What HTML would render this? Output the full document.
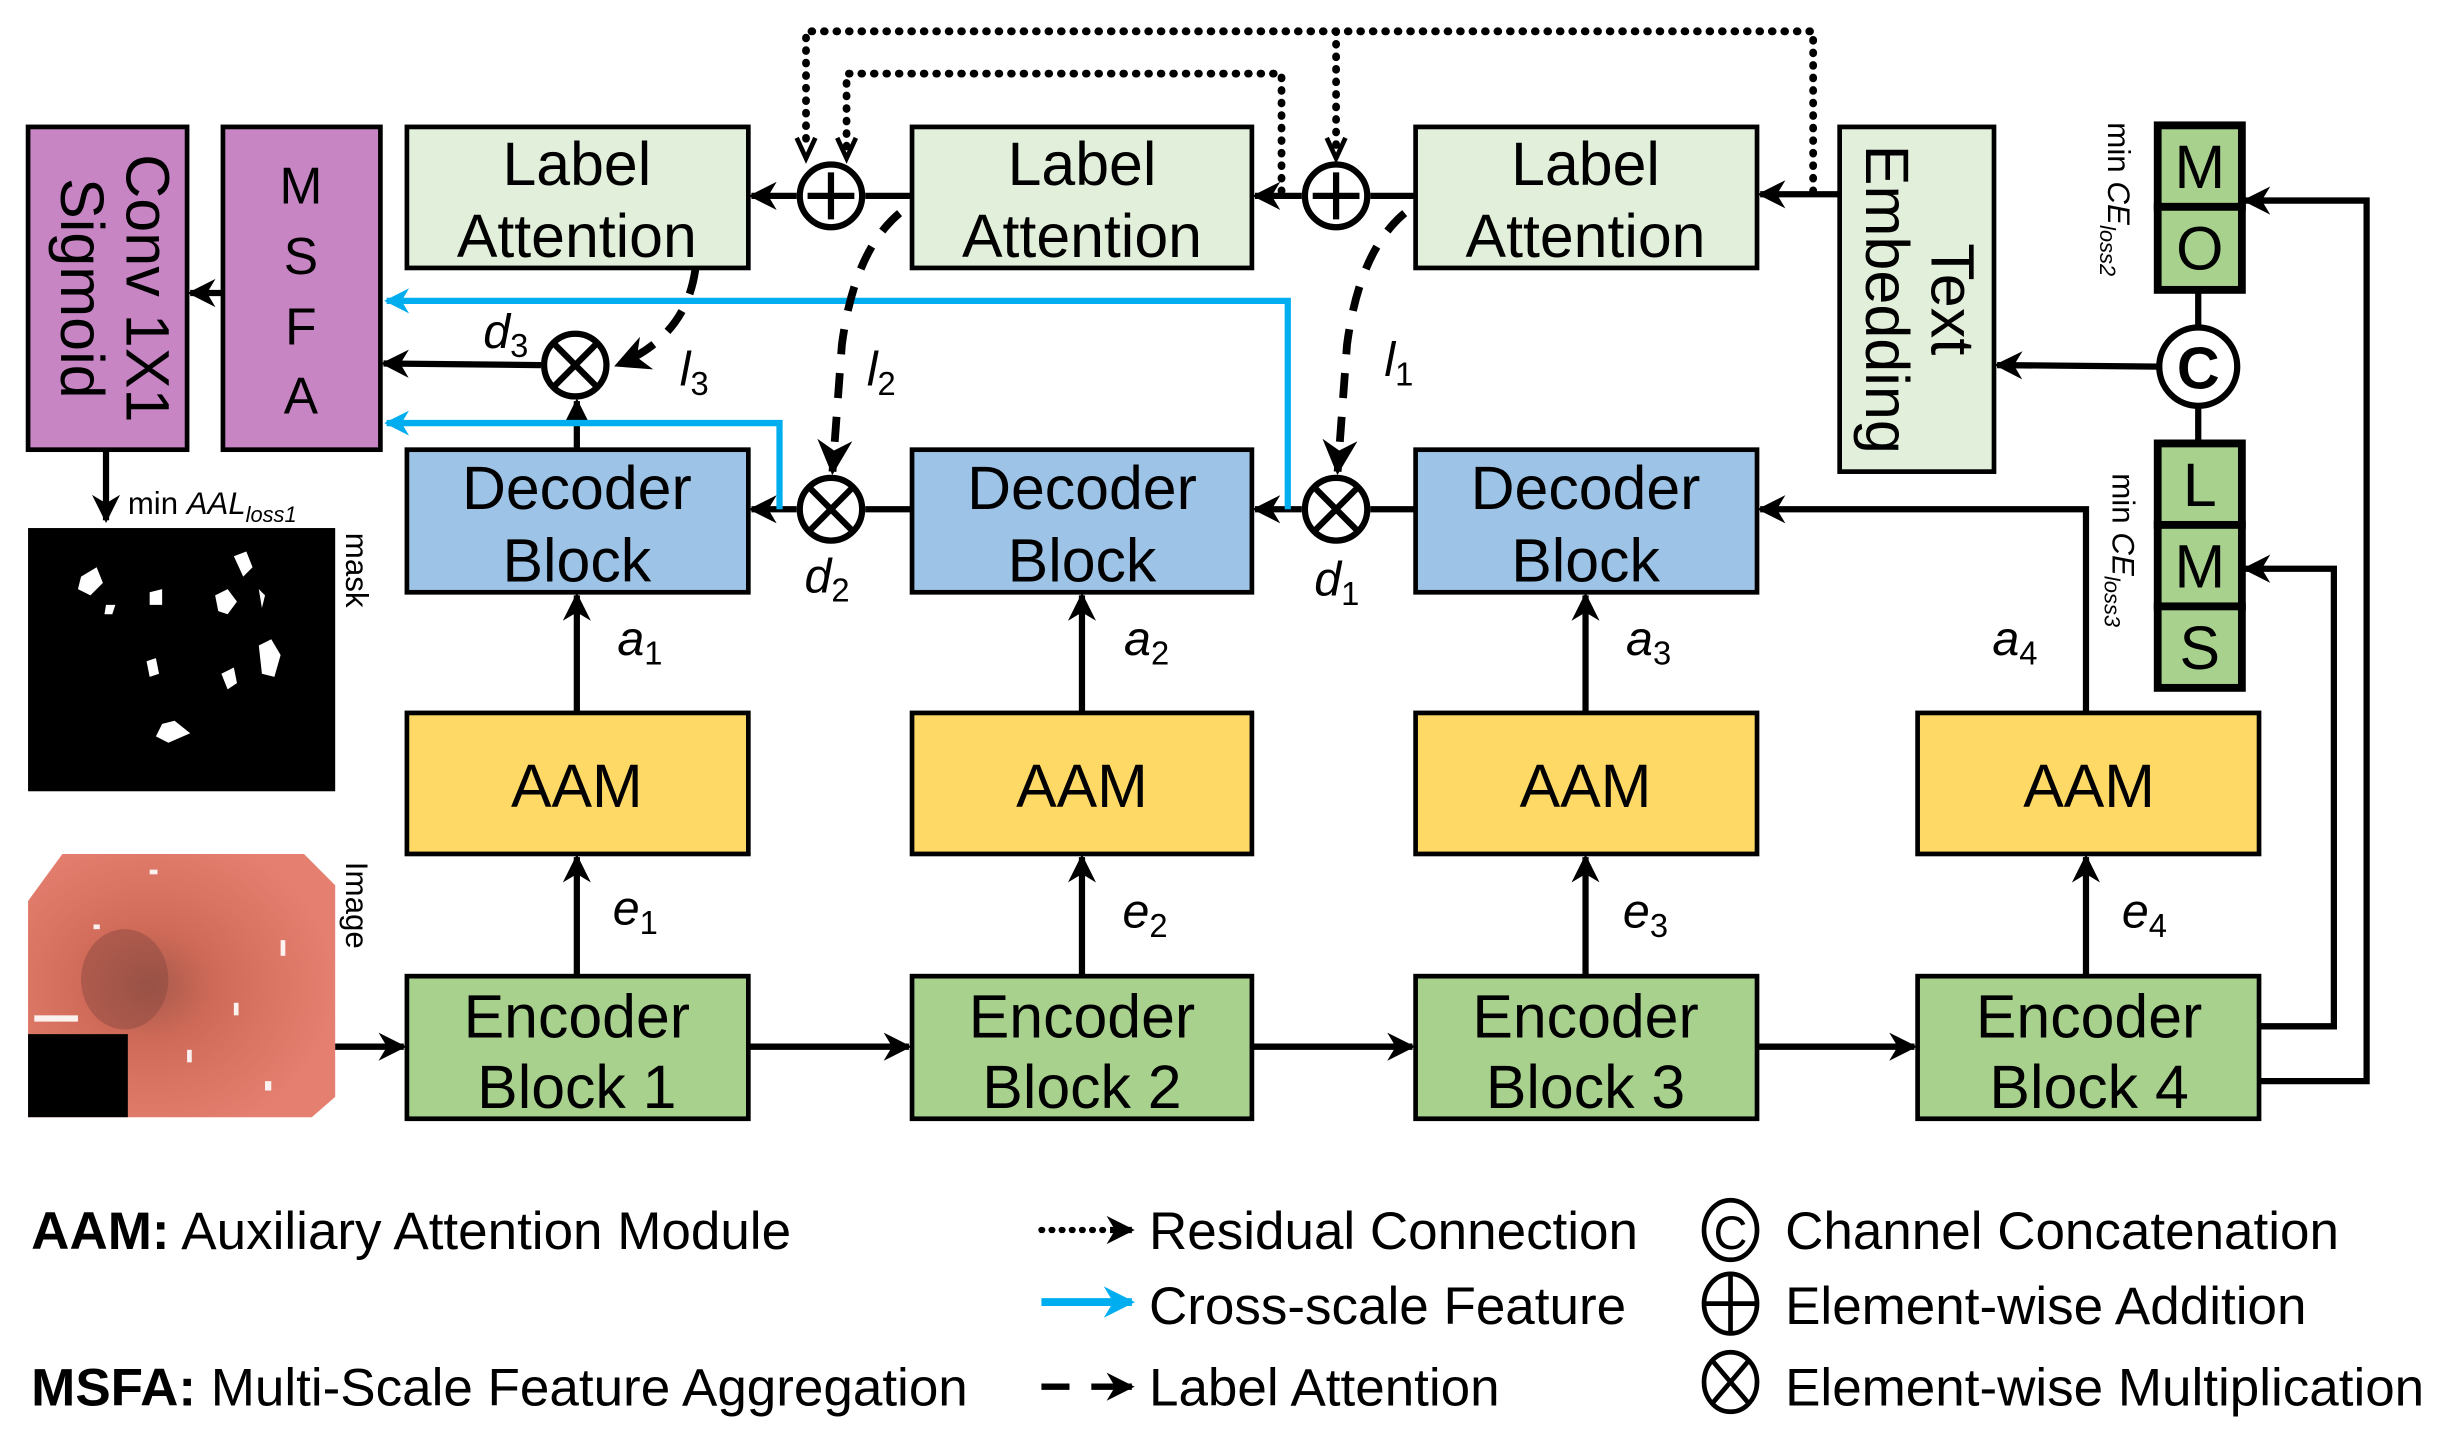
<!DOCTYPE html>
<html><head><meta charset="utf-8"><style>
html,body{margin:0;padding:0;background:#fff;overflow:hidden}
svg{display:block}
text{font-family:"Liberation Sans",Arial,sans-serif;}
.m{font-family:"Liberation Serif",serif;font-style:italic}
</style></head><body>
<svg width="2443" height="1429" viewBox="0 0 1567 912" preserveAspectRatio="none" xmlns="http://www.w3.org/2000/svg">
<defs>
<marker id="a" viewBox="0 0 10 10" refX="9" refY="5" markerWidth="4.5" markerHeight="4.5" orient="auto" markerUnits="strokeWidth"><path d="M0,0 L10,5 L0,10 L3,5z" fill="#000"/></marker>
<marker id="ab" viewBox="0 0 10 10" refX="9" refY="5" markerWidth="4" markerHeight="4" orient="auto" markerUnits="strokeWidth"><path d="M0,0 L10,5 L0,10 L3,5z" fill="#00aeef"/></marker>
<radialGradient id="g" cx="0.4" cy="0.5" r="0.6"><stop offset="0" stop-color="#a85a4c"/><stop offset="0.35" stop-color="#d06a58"/><stop offset="1" stop-color="#e58070"/></radialGradient>
</defs>
<g stroke="#000" stroke-width="3">
<rect x="18" y="81" width="102" height="206" fill="#c785c4"/>
<rect x="143" y="81" width="101" height="206" fill="#c785c4"/>
<rect x="261" y="81" width="219" height="90" fill="#e2efda"/>
<rect x="585" y="81" width="218" height="90" fill="#e2efda"/>
<rect x="908" y="81" width="219" height="90" fill="#e2efda"/>
<rect x="1180" y="81" width="99" height="220" fill="#e2efda"/>
<rect x="261" y="287" width="219" height="91" fill="#9dc3e6"/>
<rect x="585" y="287" width="218" height="91" fill="#9dc3e6"/>
<rect x="908" y="287" width="219" height="91" fill="#9dc3e6"/>
<rect x="261" y="455" width="219" height="90" fill="#ffd966"/>
<rect x="585" y="455" width="218" height="90" fill="#ffd966"/>
<rect x="908" y="455" width="219" height="90" fill="#ffd966"/>
<rect x="1230" y="455" width="219" height="90" fill="#ffd966"/>
<rect x="261" y="623" width="219" height="91" fill="#a9d18e"/>
<rect x="585" y="623" width="218" height="91" fill="#a9d18e"/>
<rect x="908" y="623" width="219" height="91" fill="#a9d18e"/>
<rect x="1230" y="623" width="219" height="91" fill="#a9d18e"/>
</g>
<g stroke="#000" stroke-width="5" fill="#a9d18e">
<rect x="1384" y="80" width="54" height="52"/><rect x="1384" y="132" width="54" height="53"/>
<rect x="1384" y="283" width="54" height="52"/><rect x="1384" y="335" width="54" height="52"/><rect x="1384" y="387" width="54" height="52"/>
</g>
<rect x="18" y="337" width="197" height="168" fill="#000"/>
<g fill="#fff"><polygon points="52,368 62,362 66,372 58,380 50,376"/><polygon points="150,355 158,352 162,362 156,368"/><polygon points="96,378 104,376 104,386 96,386"/><polygon points="138,380 146,376 152,384 146,392 140,390"/><polygon points="166,376 170,380 168,388"/><polygon points="68,386 74,386 72,392 67,392"/><polygon points="166,412 174,408 180,418 176,432 168,430"/><polygon points="94,422 100,420 102,430 96,432"/><polygon points="142,430 150,426 152,436 146,440"/><polygon points="104,462 112,460 122,468 108,474 100,470"/></g>
<polygon points="40,545 195,545 215,565 215,700 200,713 18,713 18,575" fill="url(#g)"/>
<ellipse cx="80" cy="625" rx="28" ry="32" fill="#8a4a40" opacity="0.5"/>
<rect x="18" y="660" width="64" height="53" fill="#000"/>
<g fill="#fff" opacity="0.9"><rect x="60" y="590" width="4" height="3"/><rect x="96" y="555" width="5" height="3"/><rect x="150" y="640" width="3" height="8"/><rect x="180" y="600" width="3" height="10"/><rect x="120" y="670" width="3" height="8"/><rect x="170" y="690" width="4" height="6"/><rect x="22" y="648" width="28" height="4"/></g>
<g font-size="39" text-anchor="middle" fill="#000">
<text x="370" y="118">Label</text><text x="370" y="164">Attention</text>
<text x="694" y="118">Label</text><text x="694" y="164">Attention</text>
<text x="1017" y="118">Label</text><text x="1017" y="164">Attention</text>
<text x="370" y="325">Decoder</text><text x="370" y="371">Block</text>
<text x="694" y="325">Decoder</text><text x="694" y="371">Block</text>
<text x="1017" y="325">Decoder</text><text x="1017" y="371">Block</text>
<text x="370" y="515">AAM</text><text x="694" y="515">AAM</text><text x="1017" y="515">AAM</text><text x="1340" y="515">AAM</text>
<text x="370" y="662">Encoder</text><text x="370" y="707">Block 1</text>
<text x="694" y="662">Encoder</text><text x="694" y="707">Block 2</text>
<text x="1017" y="662">Encoder</text><text x="1017" y="707">Block 3</text>
<text x="1340" y="662">Encoder</text><text x="1340" y="707">Block 4</text>
<text x="1411" y="120">M</text><text x="1411" y="172">O</text>
<text x="1411" y="323">L</text><text x="1411" y="375">M</text><text x="1411" y="427">S</text>
<g font-size="33"><text x="193" y="130">M</text><text x="193" y="175">S</text><text x="193" y="220">F</text><text x="193" y="264">A</text></g>
<g transform="translate(69,184) rotate(90)"><text x="0" y="-12">Conv 1X1</text><text x="0" y="30">Sigmoid</text></g>
<g transform="translate(1229,191) rotate(90)"><text x="0" y="-10">Text</text><text x="0" y="32">Embedding</text></g>
</g>
<g font-size="20" fill="#000"><text transform="translate(222,340) rotate(90)">mask</text><text transform="translate(222,550) rotate(90)">Image</text></g>
<g class="m" fill="#000" font-size="31">
<text x="310" y="222">d<tspan font-size="21" dy="6" font-style="normal">3</tspan></text>
<text x="436" y="246">l<tspan font-size="21" dy="6" font-style="normal">3</tspan></text>
<text x="556" y="246">l<tspan font-size="21" dy="6" font-style="normal">2</tspan></text>
<text x="888" y="240">l<tspan font-size="21" dy="6" font-style="normal">1</tspan></text>
<text x="516" y="378">d<tspan font-size="21" dy="6" font-style="normal">2</tspan></text>
<text x="843" y="380">d<tspan font-size="21" dy="6" font-style="normal">1</tspan></text>
<text x="396" y="418">a<tspan font-size="21" dy="6" font-style="normal">1</tspan></text>
<text x="721" y="418">a<tspan font-size="21" dy="6" font-style="normal">2</tspan></text>
<text x="1043" y="418">a<tspan font-size="21" dy="6" font-style="normal">3</tspan></text>
<text x="1278" y="418">a<tspan font-size="21" dy="6" font-style="normal">4</tspan></text>
<text x="393" y="590">e<tspan font-size="21" dy="6" font-style="normal">1</tspan></text>
<text x="720" y="592">e<tspan font-size="21" dy="6" font-style="normal">2</tspan></text>
<text x="1041" y="592">e<tspan font-size="21" dy="6" font-style="normal">3</tspan></text>
<text x="1361" y="592">e<tspan font-size="21" dy="6" font-style="normal">4</tspan></text>
</g>
<g font-family="Liberation Serif,serif" fill="#000" font-size="20">
<text x="82" y="328">min <tspan font-style="italic">AAL</tspan><tspan font-style="italic" font-size="14" dy="5">loss1</tspan></text>
<text transform="translate(1352,78) rotate(90)">min <tspan font-style="italic">CE</tspan><tspan font-style="italic" font-size="14" dy="5">loss2</tspan></text>
<text transform="translate(1355,302) rotate(90)">min <tspan font-style="italic">CE</tspan><tspan font-style="italic" font-size="14" dy="5">loss3</tspan></text>
</g>
<g stroke="#000" stroke-width="4" fill="none" marker-end="url(#a)">
<line x1="215" y1="668" x2="259" y2="668"/>
<line x1="480" y1="668" x2="583" y2="668"/>
<line x1="803" y1="668" x2="906" y2="668"/>
<line x1="1127" y1="668" x2="1228" y2="668"/>
<line x1="370" y1="623" x2="370" y2="547"/><line x1="694" y1="623" x2="694" y2="547"/><line x1="1017" y1="623" x2="1017" y2="547"/><line x1="1338" y1="623" x2="1338" y2="547"/>
<line x1="370" y1="455" x2="370" y2="380"/><line x1="694" y1="455" x2="694" y2="380"/><line x1="1017" y1="455" x2="1017" y2="380"/>
<polyline points="1338,455 1338,325 1129,325"/>
<polyline points="1449,655 1497,655 1497,363 1440,363"/>
<polyline points="1449,690 1518,690 1518,128 1440,128"/>
<line x1="1385" y1="234" x2="1281" y2="233"/>
<line x1="1180" y1="124" x2="1129" y2="124"/>
<line x1="835" y1="325" x2="805" y2="325"/>
<line x1="511" y1="325" x2="482" y2="325"/>
<line x1="835" y1="125" x2="805" y2="125"/>
<line x1="511" y1="125" x2="482" y2="125"/>
<line x1="370" y1="287" x2="370" y2="256"/>
<line x1="347" y1="233" x2="246" y2="232"/>
<line x1="143" y1="187" x2="122" y2="187"/>
<line x1="68" y1="287" x2="68" y2="332"/>
</g>
<g stroke="#000" stroke-width="4">
<line x1="908" y1="325" x2="879" y2="325"/><line x1="585" y1="325" x2="555" y2="325"/>
<line x1="908" y1="125" x2="879" y2="125"/><line x1="585" y1="125" x2="555" y2="125"/>
<line x1="1410" y1="185" x2="1410" y2="209"/><line x1="1410" y1="259" x2="1410" y2="283"/>
</g>
<g stroke="#00aeef" stroke-width="4" fill="none" marker-end="url(#ab)">
<polyline points="826,325 826,192 248,192"/>
<polyline points="500,325 500,270 248,270"/>
</g>
<g stroke="#000" stroke-width="5" fill="none" stroke-dasharray="0.5,7.5" stroke-linecap="round">
<polyline points="1163,122 1163,20 517,20 517,96"/>
<polyline points="857,20 857,96"/>
<polyline points="822,122 822,47 543,47 543,96"/>
</g>
<g stroke="#000" stroke-width="3" fill="none">
<polyline points="511,88 517,101 523,88"/><polyline points="537,88 543,101 549,88"/><polyline points="851,88 857,101 863,88"/>
</g>
<g stroke="#000" stroke-width="5" fill="none" stroke-dasharray="16,12" marker-end="url(#a)">
<path d="M577,136 Q548,160 540,220 L534,301"/>
<path d="M901,136 Q872,160 864,220 L858,301"/>
<path d="M446,172 Q440,215 396,233"/>
</g>
<g stroke="#000" stroke-width="4" fill="#fff">
<circle cx="533" cy="125" r="20"/><circle cx="857" cy="125" r="20"/>
<circle cx="369" cy="233" r="20"/><circle cx="533" cy="325" r="20"/><circle cx="857" cy="325" r="20"/>
<circle cx="1410" cy="234" r="25"/>
</g>
<g stroke="#000" stroke-width="4">
<path d="M533,110 V140 M518,125 H548 M857,110 V140 M842,125 H872"/>
<path d="M355,219 L383,247 M383,219 L355,247 M519,311 L547,339 M547,311 L519,339 M843,311 L871,339 M871,311 L843,339"/>
</g>
<text x="1410" y="248" font-size="38" font-weight="bold" text-anchor="middle">C</text>
<g font-size="34" fill="#000">
<text x="20" y="797"><tspan font-weight="bold">AAM:</tspan> Auxiliary Attention Module</text>
<text x="20" y="897"><tspan font-weight="bold">MSFA:</tspan> Multi-Scale Feature Aggregation</text>
<text x="737" y="797">Residual Connection</text>
<text x="737" y="845">Cross-scale Feature</text>
<text x="737" y="897">Label Attention</text>
<text x="1145" y="797">Channel Concatenation</text>
<text x="1145" y="845">Element-wise Addition</text>
<text x="1145" y="897">Element-wise Multiplication</text>
</g>
<g stroke="#000" stroke-width="4" fill="none">
<line x1="668" y1="785" x2="712" y2="785" stroke-dasharray="0.5,6" stroke-linecap="round"/>
<line x1="668" y1="885" x2="686" y2="885"/>
<line x1="700" y1="885" x2="726" y2="885" marker-end="url(#a)"/>
<line x1="712" y1="785" x2="726" y2="785" marker-end="url(#a)"/>
</g>
<line x1="668" y1="831" x2="726" y2="831" stroke="#00aeef" stroke-width="5" marker-end="url(#ab)"/>
<g stroke="#000" stroke-width="3" fill="none">
<ellipse cx="1110" cy="785" rx="17" ry="19"/>
<ellipse cx="1110" cy="832" rx="17" ry="19"/><path d="M1110,813 V851 M1093,832 H1127"/>
<ellipse cx="1110" cy="882" rx="17" ry="19"/><path d="M1098,868 L1122,896 M1122,868 L1098,896"/>
</g>
<text x="1110" y="797" font-size="30" text-anchor="middle">C</text>
</svg>
</body></html>
